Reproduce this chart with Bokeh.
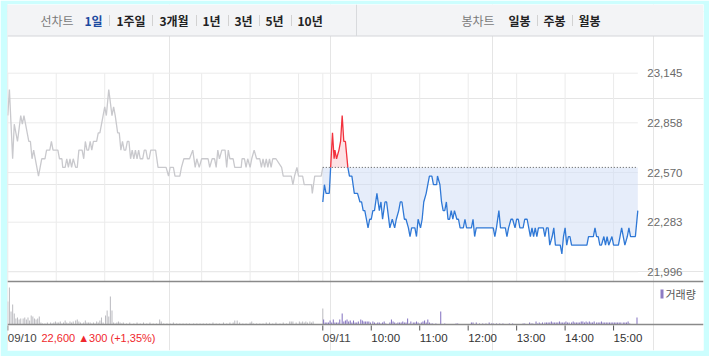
import numpy as np
from bokeh.plotting import figure
from bokeh.models import Range1d
from bokeh.core.properties import value
from bokeh.embed import file_html
from bokeh.resources import INLINE

# ---------------- data ----------------
day1_times = ["09:00","09:02","09:06","09:08","09:12","09:16","09:18","09:20","09:26","09:28","09:30","09:32",
              "09:38","09:42","09:46","09:48","09:52","09:54","09:56","10:02","10:04","10:07","10:08","10:11",
              "10:13","10:15","10:17","10:19","10:21","10:24","10:26","10:28","10:32","10:34","10:36","10:38",
              "10:40","10:42","10:44","10:46","10:50","10:52","10:54","10:58","11:00","11:02","11:05","11:09",
              "11:11","11:13","11:16","11:18","11:20","11:22","11:24","11:26","11:28","11:30","11:32","11:34",
              "11:36","11:38","11:40","11:42","11:44","11:47","11:49","11:51","11:53","11:55","11:57","12:03",
              "12:06","12:16","12:19","12:21","12:25","12:27","12:33","12:35","12:38","12:45","12:49","12:52",
              "12:54","12:57","13:00","13:08","13:10","13:13","13:16","13:18","13:20","13:22","13:25","13:29",
              "13:31","13:33","13:35","13:39","13:41","13:49","13:50","13:53","13:55","13:57","14:00","14:02",
              "14:05","14:08","14:12","14:14","14:16","14:18","14:20","14:22","14:24","14:26","14:28","14:32",
              "14:39","14:41","14:51","14:53","14:55","14:58","15:00","15:05","15:07","15:16","15:17","15:20",
              "15:28","15:30"]
day1_prices = [22900,23050,22650,22850,22750,22900,22850,22900,22750,22750,22650,22700,
               22550,22650,22650,22700,22700,22750,22700,22700,22650,22650,22600,22600,
               22650,22600,22650,22600,22650,22600,22600,22700,22700,22650,22750,22700,
               22700,22750,22700,22750,22750,22800,22800,22900,22950,22900,23050,22900,
               22950,22900,22800,22800,22700,22750,22700,22700,22750,22750,22650,22700,
               22650,22700,22650,22700,22650,22650,22700,22700,22650,22650,22700,22700,
               22600,22600,22550,22600,22600,22550,22550,22600,22650,22650,22700,22600,
               22650,22600,22650,22650,22600,22650,22650,22600,22700,22650,22700,22700,
               22600,22700,22650,22650,22600,22600,22650,22650,22600,22650,22600,22650,
               22700,22650,22650,22600,22650,22600,22650,22600,22650,22600,22650,22650,
               22600,22550,22550,22500,22550,22600,22550,22550,22500,22500,22450,22550,
               22550,22600]

day2_times = ["09:00","09:02","09:04","09:08","09:12","09:14","09:15","09:17","09:20","09:22","09:24","09:26",
              "09:28","09:31","09:33","09:36","09:39","09:43","09:46","09:48","09:50","09:52","09:54","09:56",
              "09:58","10:00","10:02","10:04","10:07","10:10","10:12","10:14","10:17","10:19","10:23","10:26",
              "10:29","10:31","10:34","10:36","10:38","10:41","10:43","10:46","10:48","10:50","10:54","10:56",
              "10:58","11:01","11:03","11:05","11:08","11:10","11:12","11:15","11:17","11:21","11:22","11:25",
              "11:27","11:29","11:31","11:33","11:35","11:37","11:39","11:41","11:43","11:46","11:48","11:50",
              "11:54","11:56","11:58","12:04","12:06","12:08","12:10","12:31","12:33","12:35","12:38","12:40",
              "12:46","12:48","12:50","12:53","12:55","12:58","13:00","13:02","13:04","13:08","13:10","13:13",
              "13:15","13:17","13:19","13:21","13:23","13:25","13:27","13:33","13:35","13:37","13:39","13:41",
              "13:44","13:46","13:48","13:54","13:56","13:58","14:00","14:02","14:04","14:06","14:08","14:27",
              "14:29","14:35","14:37","14:39","14:41","14:43","14:45","14:48","14:50","14:52","14:54","14:58",
              "15:00","15:06","15:08","15:10","15:12","15:14","15:17","15:19","15:21","15:27","15:30"]
day2_prices = [22400,22500,22450,22450,22800,22650,22700,22650,22700,22750,22900,22750,
               22750,22600,22550,22550,22450,22450,22400,22400,22350,22350,22300,22250,
               22300,22300,22350,22350,22450,22350,22400,22300,22400,22400,22250,22300,
               22250,22300,22350,22400,22400,22300,22300,22250,22200,22250,22250,22200,
               22300,22250,22300,22400,22450,22500,22550,22550,22500,22500,22550,22500,
               22400,22350,22350,22400,22300,22300,22350,22300,22350,22300,22300,22250,
               22250,22300,22250,22250,22300,22200,22250,22250,22200,22250,22350,22250,
               22250,22200,22250,22300,22300,22250,22300,22300,22250,22250,22300,22300,
               22250,22200,22250,22200,22250,22200,22250,22250,22200,22250,22250,22150,
               22200,22250,22150,22150,22100,22200,22250,22150,22200,22200,22150,22150,
               22200,22200,22250,22200,22200,22150,22150,22200,22150,22200,22150,22200,
               22150,22150,22200,22250,22200,22150,22200,22250,22200,22200,22350]

vol1_times = ["09:00","09:02","09:04","09:06","09:08","09:10","09:12","09:14","09:16","09:19","09:21","09:23",
              "09:25","09:27","09:29","09:31","09:33","09:35","09:37","09:39","09:41","09:43","09:46","09:49",
              "09:53","09:55","09:57","09:59","10:01","10:03","10:05","10:07","10:09","10:11","10:13","10:15",
              "10:17","10:19","10:21","10:24","10:26","10:28","10:30","10:32","10:34","10:36","10:38","10:40",
              "10:42","10:44","10:46","10:48","10:50","10:52","10:54","10:56","10:58","11:01","11:03","11:05",
              "11:07","11:09","11:11","11:13","11:15","11:17","11:19","11:21","11:23","11:27","11:31","11:36",
              "11:40","11:44","11:48","11:52","11:56","12:00","12:04","12:08","12:10","12:13","12:17","12:21",
              "12:25","12:29","12:33","12:37","12:41","12:45","12:50","12:54","12:58","13:02","13:06","13:10",
              "13:14","13:18","13:22","13:27","13:31","13:35","13:39","13:41","13:44","13:47","13:51","13:55",
              "14:00","14:02","14:04","14:08","14:12","14:16","14:20","14:24","14:28","14:32","14:37","14:41",
              "14:45","14:49","14:51","14:53","14:57","15:01","15:03","15:05","15:07","15:09","15:11","15:14",
              "15:16","15:18","15:30"]
vol1_values = [23,37,13,20,11,6,7,5,6,6,7,5,
               7,4,9,8,6,5,6,8,2,1,1,2,
               2,1,2,3,2,2,3,1,2,4,2,1,
               3,2,3,4,5,3,2,1,2,4,2,2,
               2,1,2,1,3,2,4,7,2,9,14,8,
               28,14,2,1,2,3,2,1,2,1,2,1,
               2,1,2,1,2,1,1,5,3,1,1,1,
               2,1,1,1,1,1,1,1,1,1,1,1,
               2,1,1,2,1,2,2,4,4,2,1,1,
               2,3,1,1,1,1,2,2,1,2,1,2,
               1,3,3,3,2,3,2,3,2,3,2,3,
               2,3,16]

vol2_times = ["09:01","09:03","09:05","09:07","09:09","09:11","09:13","09:15","09:17","09:19","09:21","09:24",
              "09:26","09:28","09:30","09:32","09:34","09:36","09:38","09:40","09:42","09:44","09:47","09:49",
              "09:51","09:53","09:55","09:57","09:59","10:02","10:04","10:06","10:08","10:10","10:12","10:14",
              "10:16","10:18","10:23","10:25","10:27","10:29","10:31","10:33","10:35","10:37","10:39","10:41",
              "10:43","10:45","10:47","10:49","10:52","10:54","10:56","10:58","11:00","11:02","11:04","11:06",
              "11:08","11:10","11:12","11:14","11:16","11:20","11:26","11:31","11:45","11:47","12:04","12:06",
              "12:10","12:14","12:18","12:22","12:26","12:29","12:31","12:35","12:39","12:43","12:51","12:55",
              "13:08","13:10","13:16","13:18","13:20","13:24","13:26","13:28","13:30","13:32","13:35","13:37",
              "13:39","13:41","13:43","13:45","13:47","13:49","13:51","13:53","13:55","13:57","13:59","14:01",
              "14:03","14:05","14:08","14:10","14:12","14:14","14:16","14:18","14:20","14:22","14:24","14:26",
              "14:28","14:30","14:32","14:34","14:36","14:39","14:41","14:43","14:45","14:47","14:49","14:51",
              "14:53","14:55","14:57","14:59","15:01","15:03","15:05","15:07","15:09","15:12","15:14","15:16",
              "15:18","15:20","15:29"]
vol2_values = [5,2,2,2,4,2,5,2,2,2,5,11,
               3,4,5,3,4,2,4,2,2,3,5,4,
               3,3,3,3,2,3,2,1,2,2,1,2,
               3,1,2,5,3,2,1,2,2,2,3,2,
               2,6,1,3,2,2,3,2,1,2,3,4,
               2,5,2,1,1,1,13,1,1,1,2,2,
               2,1,1,1,2,1,1,1,1,1,1,1,
               1,1,2,1,1,3,1,2,1,2,2,2,
               2,2,3,2,2,2,2,3,2,2,2,3,
               2,2,2,3,2,2,2,2,3,3,2,3,
               2,3,2,2,3,2,2,2,3,2,2,2,
               2,2,2,2,2,2,2,2,2,2,2,2,
               3,1,7]

price_ticks = [21996, 22283, 22570, 22858, 23145]
price_tick_labels = ["21,996", "22,283", "22,570", "22,858", "23,145"]
date_labels = ["09/10", "09/11"]
hour_labels = ["10:00", "11:00", "12:00", "13:00", "14:00", "15:00"]
status_text = "22,600 \u25b2300 (+1,35%)"
volume_legend = "거래량"
period_title = "선차트"
period_tabs = ["1일", "1주일", "3개월", "1년", "3년", "5년", "10년"]
candle_title = "봉차트"
candle_tabs = ["일봉", "주봉", "월봉"]

# ---------------- layout constants (pixels) ----------------
W, H = 709, 356
FL, FR, FT, FB = 7, 703, 4, 350
X0_PX, X1_PX = 7.3, 637.3          # session start of day 1, session end of day 2
GRID_TOP_PX, GRID_BOT_PX = 72.7, 271.3
PRICE_AXIS_PX = 281.0
VOL_BASE_PX = 324.0
TAB_BAR_BOTTOM = 35.5

def to_min(t):
    h, m = t.split(":")
    return (int(h) - 9) * 60 + int(m)

SESSION = to_min("15:30")
TOTAL = 2 * SESSION
kx = (X1_PX - X0_PX) / TOTAL
pp = (price_ticks[-1] - price_ticks[0]) / (GRID_BOT_PX - GRID_TOP_PX)

x_rng = Range1d(-(X0_PX - FL) / kx, TOTAL + (FR - X1_PX) / kx)
y_rng = Range1d(price_ticks[0] - (FB - GRID_BOT_PX) * pp, price_ticks[-1] + (GRID_TOP_PX - FT) * pp)

p = figure(width=W, height=H, x_range=x_rng, y_range=y_rng, output_backend="svg",
           toolbar_location=None, x_axis_location=None, y_axis_location=None,
           min_border_left=FL, min_border_right=W - FR, min_border_top=FT, min_border_bottom=H - FB)
p.extra_y_ranges = {"vol": Range1d(-(FB - VOL_BASE_PX), VOL_BASE_PX - FT),
                    "px": Range1d(FB, FT)}
p.extra_x_ranges = {"px": Range1d(FL, FR)}
p.border_fill_color = "#ccfefe"
p.background_fill_color = "#ffffff"
p.outline_line_color = None

NUM_FONT = value("Liberation Sans")
KR_FONT = value("Noto Sans CJK KR")

# ---- tab bar ----
p.quad(left=[FL], right=[FR], top=[FT], bottom=[TAB_BAR_BOTTOM], x_range_name="px", y_range_name="px",
       fill_color="#f3f4f6", line_color=None)
p.segment(x0=[FL], x1=[FR], y0=[TAB_BAR_BOTTOM], y1=[TAB_BAR_BOTTOM], x_range_name="px", y_range_name="px",
          line_color="#d4d6da", line_width=1)
p.segment(x0=[356], x1=[356], y0=[FT], y1=[TAB_BAR_BOTTOM], x_range_name="px", y_range_name="px",
          line_color="#d8dadd", line_width=1)

tab_y = 19.5
left_x = [84, 116, 159, 202, 234, 265, 297]
right_x = [508, 543, 578]
p.text(x=[40], y=[tab_y], text=[period_title], x_range_name="px", y_range_name="px",
       text_font=KR_FONT, text_font_size="12px", text_color="#7a7a7a", text_baseline="middle")
p.text(x=[461], y=[tab_y], text=[candle_title], x_range_name="px", y_range_name="px",
       text_font=KR_FONT, text_font_size="12px", text_color="#7a7a7a", text_baseline="middle")
tab_colors = ["#1c4aa0"] + ["#222222"] * (len(period_tabs) - 1)
p.text(x=left_x, y=[tab_y] * len(period_tabs), text=period_tabs, x_range_name="px", y_range_name="px",
       text_font=KR_FONT, text_font_size="12px", text_font_style="bold", text_color=tab_colors,
       text_baseline="middle")
p.text(x=right_x, y=[tab_y] * len(candle_tabs), text=candle_tabs, x_range_name="px", y_range_name="px",
       text_font=KR_FONT, text_font_size="12px", text_font_style="bold", text_color="#222222",
       text_baseline="middle")
sep_x = [109, 152, 196, 228, 259, 291]
sep_r = [537, 572]
p.segment(x0=sep_x + sep_r, x1=sep_x + sep_r, y0=[tab_y - 5] * 8, y1=[tab_y + 6] * 8,
          x_range_name="px", y_range_name="px", line_color="#d2d2d2", line_width=1)

# ---- grid ----
grid_bottom_price = price_ticks[0] - (PRICE_AXIS_PX - GRID_BOT_PX) * pp
vgrid = [0] + [to_min(h) for h in hour_labels] + [SESSION + 0] + [SESSION + to_min(h) for h in hour_labels]
p.segment(x0=vgrid, x1=vgrid, y0=[grid_bottom_price] * len(vgrid), y1=[price_ticks[-1]] * len(vgrid),
          line_color="#ebebeb", line_width=1)
p.segment(x0=[0] * len(price_ticks), x1=[TOTAL] * len(price_ticks), y0=price_ticks, y1=price_ticks,
          line_color="#ebebeb", line_width=1)

# ---- day 1 ----
x1 = np.array([to_min(t) for t in day1_times], float)
y1 = np.array(day1_prices, float)
p.line(x1, y1, line_color="#c9c9cd", line_width=1.3)

# ---- day 2, split at previous close ----
base = day1_prices[-1]
x2 = [SESSION + to_min(t) for t in day2_times]
X, Y = [x2[0]], [day2_prices[0]]
for i in range(1, len(x2)):
    xa, ya, xb, yb = x2[i - 1], day2_prices[i - 1], x2[i], day2_prices[i]
    if (ya - base) * (yb - base) < 0:
        X.append(xa + (base - ya) / (yb - ya) * (xb - xa))
        Y.append(base)
    X.append(xb)
    Y.append(yb)
X = np.array(X, float)
Y = np.array(Y, float)
p.varea(x=X, y1=np.full_like(Y, base), y2=np.minimum(Y, base), fill_color="#cddcf5", fill_alpha=0.5)
p.varea(x=X, y1=np.full_like(Y, base), y2=np.maximum(Y, base), fill_color="#fbc6cb", fill_alpha=0.5)
p.segment(x0=[x2[0]], x1=[x2[-1]], y0=[base], y1=[base], line_color="#555555", line_width=1, line_dash="1 2")
p.line(X, np.where(Y <= base, Y, np.nan), line_color="#2f78d6", line_width=1.3)
p.line(X, np.where(Y >= base, Y, np.nan), line_color="#f2313d", line_width=1.3)

# ---- volume ----
vx1 = [to_min(t) for t in vol1_times]
vx2 = [SESSION + to_min(t) for t in vol2_times]
p.vbar(x=vx1, top=vol1_values, bottom=0, width=1.3, y_range_name="vol", fill_color="#bdbdc2", line_color=None)
p.vbar(x=vx2, top=vol2_values, bottom=0, width=1.3, y_range_name="vol", fill_color="#8776c2", line_color=None)

# ---- axis lines ----
p.segment(x0=[FL], x1=[FR], y0=[PRICE_AXIS_PX], y1=[PRICE_AXIS_PX], x_range_name="px", y_range_name="px",
          line_color="#8a8a8a", line_width=1.5)
p.segment(x0=[FL], x1=[FR], y0=[VOL_BASE_PX], y1=[VOL_BASE_PX], x_range_name="px", y_range_name="px",
          line_color="#8a8a8a", line_width=1.5)

# ---- price labels ----
label_x = TOTAL + 9.5 / kx
p.text(x=[label_x] * len(price_ticks), y=price_ticks, text=price_tick_labels, text_font=NUM_FONT,
       text_font_size="11.5px", text_color="#6a6a6a", text_baseline="middle", text_align="left")

# ---- x ticks / labels ----
tick_x = [0, SESSION] + [SESSION + to_min(h) for h in hour_labels]
tick_top_v = -1
tick_bot_v = -6
p.segment(x0=tick_x, x1=tick_x, y0=[tick_top_v] * len(tick_x), y1=[tick_bot_v] * len(tick_x),
          y_range_name="vol", line_color="#555555", line_width=1)
lab_y = -(337 - VOL_BASE_PX)
p.text(x=[0, SESSION], y=[lab_y] * 2, text=date_labels, y_range_name="vol", text_font=NUM_FONT,
       text_font_size="11.5px", text_color="#444444", text_baseline="middle")
p.text(x=[SESSION + to_min(h) for h in hour_labels], y=[lab_y] * len(hour_labels), text=hour_labels,
       y_range_name="vol", text_font=NUM_FONT, text_font_size="11.5px", text_color="#333333",
       text_baseline="middle")
p.text(x=[41], y=[337], text=[status_text], x_range_name="px", y_range_name="px", text_font=NUM_FONT,
       text_font_size="11px", text_color="#f0282d", text_baseline="middle")

# ---- volume legend ----
p.quad(left=[660], right=[663], top=[289], bottom=[298], x_range_name="px", y_range_name="px",
       fill_color="#8d7cc4", line_color=None)
p.text(x=[665], y=[293.5], text=[volume_legend], x_range_name="px", y_range_name="px", text_font=KR_FONT,
       text_font_size="11px", text_color="#555555", text_baseline="middle")

open("out.html", "w").write(file_html(p, INLINE))
